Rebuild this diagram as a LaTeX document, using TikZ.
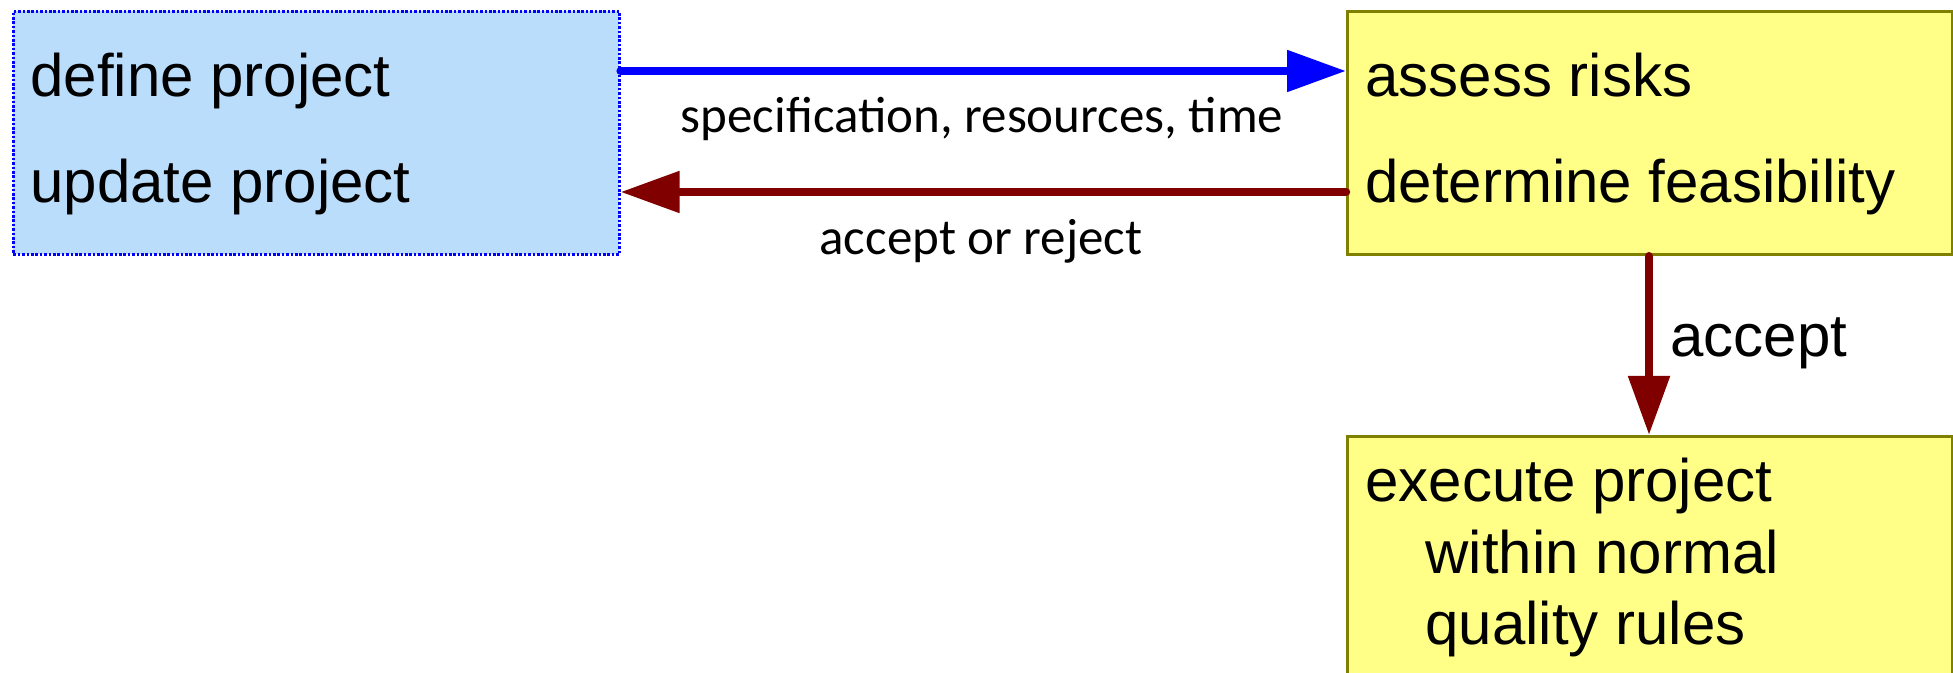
\documentclass[tikz,border=0pt]{standalone}
\usepackage{fontspec}
\setmainfont{Liberation Sans}
\newfontfamily\lblfont{Carlito}
\usetikzlibrary{arrows.meta}
\definecolor{boxblue}{RGB}{187,221,252}
\definecolor{boxyellow}{RGB}{255,255,136}
\definecolor{olivebord}{RGB}{128,128,0}
\definecolor{darkred}{RGB}{128,0,0}
\tikzset{
  bluebox/.style={draw=blue, fill=boxblue, line width=1.3pt, dash pattern=on 1.3pt off 0.9pt, inner sep=0pt, anchor=north west},
  yelbox/.style={draw=olivebord, fill=boxyellow, line width=1.6pt, inner sep=0pt, anchor=north west},
  boxtext/.style={anchor=base west, inner sep=0pt, font=\fontsize{30pt}{36pt}\selectfont},
  lbltext/.style={anchor=base, inner sep=0pt, font=\lblfont\fontsize{25.5pt}{30pt}\selectfont},
  conn/.style={line width=4.2pt, line cap=round, -{Triangle[length=29.5pt,width=20pt]}},
}
\begin{document}
\begin{tikzpicture}[x=0.5pt,y=-0.5pt]
\useasboundingbox (0,0) rectangle (1953,673);
\clip (0,0) rectangle (1953,673);
% boxes
\node[bluebox, minimum width=303pt, minimum height=121.5pt] (L) at (12,10) {};
\node[yelbox, minimum width=302.5pt, minimum height=121.5pt] (R) at (1346,10) {};
\node[yelbox, minimum width=302.5pt, minimum height=150pt] (E) at (1346,435) {};
% box texts
\node[boxtext] (t1) at (30,97) {define project};
\node[boxtext] (t2) at (30,203) {update project};
\node[boxtext] (t3) at (1365,97) {assess risks};
\node[boxtext] (t4) at (1365,203) {determine feasibility};
\node[boxtext] (t5) at (1365,501) {execute project};
\node[boxtext] (t6) at (1425,573) {within normal};
\node[boxtext] (t7) at (1425,644) {quality rules};
% connectors
\coordinate (y1) at (0,71);
\coordinate (y2) at (0,192);
\coordinate (xd) at (1649,0);
\draw[conn, blue] (L.east |- y1) -- (R.west |- y1);
\draw[conn, darkred] (R.west |- y2) -- (L.east |- y2);
\draw[conn, darkred] (R.south -| xd) -- (E.north -| xd);
% labels
\node[lbltext] (l1) at (982,133) {specification, resources, time};
\node[lbltext] (l2) at (981,255) {accept or reject};
\node[boxtext] (l3) at (1670,357) {accept};
\end{tikzpicture}
\end{document}
